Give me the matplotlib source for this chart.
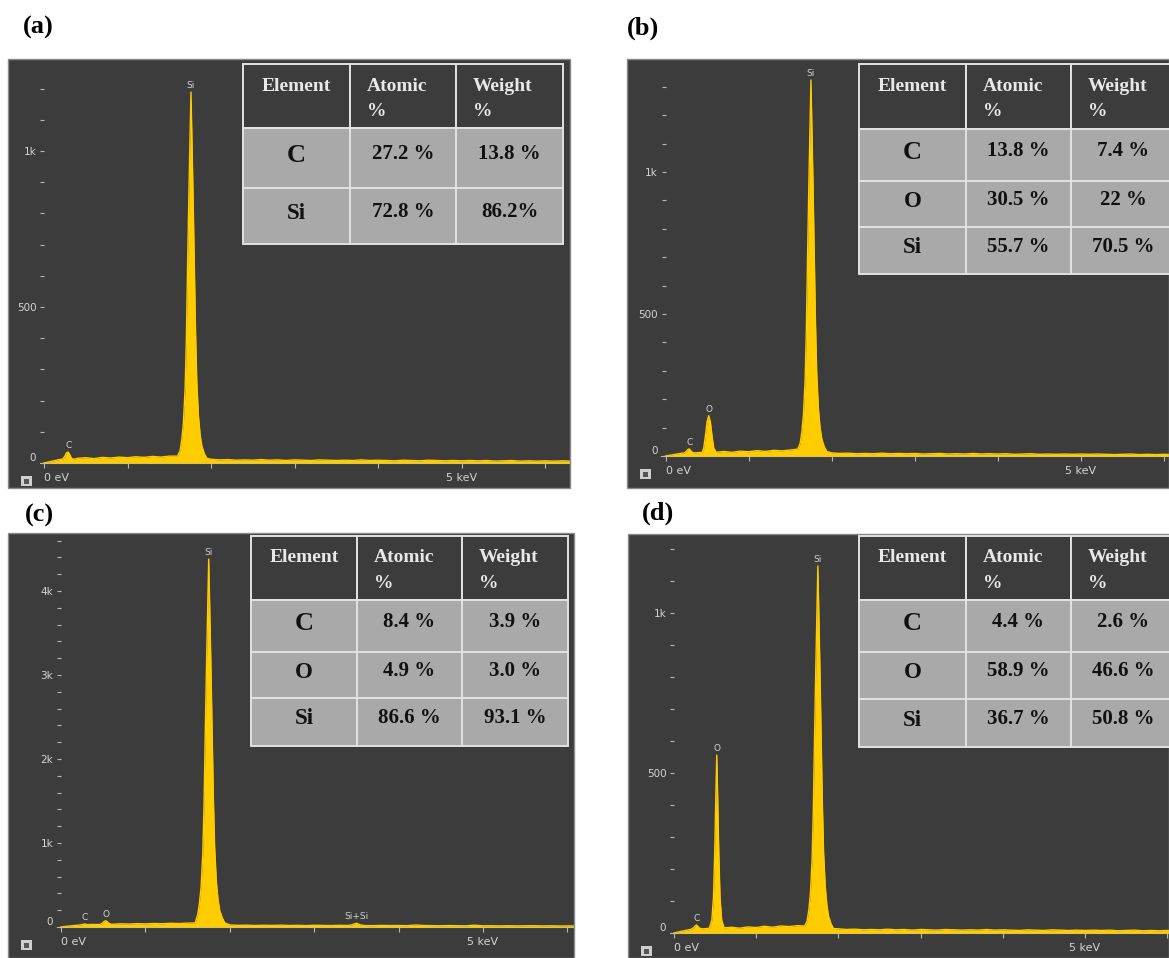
import numpy as np
import matplotlib.pyplot as plt
from matplotlib.patches import Rectangle

W, H = 1169, 958

# ---------------- data ----------------
# baseline channels every 0.1 keV (counts)
base_kev = np.round(np.arange(0, 6.35, 0.1), 2)

a_base = [0, 6, 12, 14, 15, 17, 14, 18, 16, 19, 17, 20, 18, 21, 19, 22, 20, 20, 20, 20,
          12, 10, 11, 9, 10, 9, 11, 9, 10, 8, 10, 9, 8, 10, 9, 8, 9, 8, 10, 8,
          9, 8, 7, 9, 8, 7, 9, 8, 7, 8, 7, 8, 7, 8, 6, 7, 8, 6, 7, 6, 7, 6, 7, 6]
b_base = [0, 5, 10, 12, 12, 13, 14, 16, 13, 17, 15, 19, 16, 20, 18, 21, 20, 20, 20, 20,
          11, 9, 10, 8, 9, 8, 10, 8, 9, 8, 9, 7, 8, 9, 7, 8, 7, 9, 7, 8,
          7, 8, 6, 7, 8, 6, 7, 6, 7, 6, 7, 6, 7, 6, 5, 6, 7, 5, 6, 5, 6, 5, 6, 5]
c_base = [0, 12, 22, 28, 30, 34, 32, 38, 35, 40, 37, 42, 39, 44, 41, 46, 45, 45, 45, 45,
          24, 20, 22, 18, 21, 19, 22, 18, 20, 17, 21, 19, 17, 20, 18, 30, 18, 16, 19, 17,
          18, 16, 24, 18, 16, 15, 17, 15, 14, 22, 14, 15, 13, 15, 13, 14, 15, 13, 14, 12,
          13, 12, 13, 12]
d_base = [0, 6, 11, 13, 14, 15, 16, 18, 15, 19, 17, 21, 18, 22, 20, 23, 22, 22, 22, 22,
          13, 11, 12, 10, 11, 10, 12, 10, 11, 9, 11, 10, 9, 11, 10, 9, 10, 9, 11, 9,
          10, 9, 8, 10, 9, 8, 10, 9, 8, 9, 8, 9, 8, 9, 7, 8, 9, 7, 8, 7, 8, 7, 8, 7]

# peaks: energy (keV) / counts
a_C_kev = [0.22, 0.25, 0.27, 0.29, 0.31, 0.33, 0.36]
a_C_cts = [12, 22, 33, 35, 26, 15, 12]
a_Si_kev = [1.60, 1.63, 1.65, 1.67, 1.69, 1.705, 1.72, 1.735, 1.75, 1.76, 1.77, 1.785,
            1.80, 1.815, 1.83, 1.85, 1.87, 1.89, 1.92, 1.95]
a_Si_cts = [22, 40, 75, 130, 240, 400, 640, 860, 1060, 1189, 1060, 860,
            640, 420, 260, 150, 90, 55, 30, 15]

b_C_kev = [0.22, 0.25, 0.27, 0.285, 0.30, 0.32, 0.35]
b_C_cts = [10, 16, 23, 25, 20, 13, 11]
b_O_kev = [0.44, 0.46, 0.48, 0.50, 0.52, 0.54, 0.56, 0.58, 0.61]
b_O_cts = [12, 28, 70, 120, 142, 120, 70, 28, 13]
b_Si_kev = [1.59, 1.62, 1.64, 1.66, 1.68, 1.695, 1.71, 1.725, 1.74, 1.75, 1.76, 1.775,
            1.79, 1.805, 1.82, 1.84, 1.86, 1.88, 1.91, 1.94]
b_Si_cts = [24, 44, 83, 145, 267, 445, 712, 957, 1180, 1324, 1180, 957,
            712, 467, 290, 167, 100, 61, 33, 16]

c_C_kev = [0.22, 0.25, 0.28, 0.31, 0.34]
c_C_cts = [24, 28, 36, 28, 30]
c_O_kev = [0.46, 0.49, 0.51, 0.53, 0.55, 0.57, 0.60]
c_O_cts = [30, 45, 65, 75, 62, 42, 32]
c_Si_kev = [1.59, 1.62, 1.64, 1.66, 1.68, 1.695, 1.71, 1.725, 1.74, 1.75, 1.76, 1.775,
            1.79, 1.805, 1.82, 1.84, 1.86, 1.88, 1.91, 1.94]
c_Si_cts = [48, 150, 280, 480, 880, 1470, 2360, 3170, 3900, 4381, 3900, 3170,
            2360, 1550, 960, 550, 330, 200, 110, 50]
c_SiSi_kev = [3.40, 3.45, 3.48, 3.50, 3.52, 3.55, 3.60]
c_SiSi_cts = [18, 26, 38, 44, 36, 24, 17]

d_C_kev = [0.21, 0.24, 0.26, 0.275, 0.29, 0.31, 0.34]
d_C_cts = [12, 17, 23, 25, 21, 15, 13]
d_O_kev = [0.43, 0.46, 0.48, 0.495, 0.51, 0.52, 0.53, 0.545, 0.56, 0.58, 0.61]
d_O_cts = [15, 40, 110, 250, 440, 556, 440, 250, 110, 40, 16]
d_Si_kev = [1.59, 1.62, 1.64, 1.66, 1.68, 1.695, 1.71, 1.725, 1.74, 1.75, 1.76, 1.775,
            1.79, 1.805, 1.82, 1.84, 1.86, 1.88, 1.91, 1.94]
d_Si_cts = [22, 38, 72, 125, 232, 386, 617, 830, 1022, 1147, 1022, 830,
            617, 405, 251, 145, 87, 53, 29, 14]

# tables
header = ["Element", "Atomic", "Weight"]
a_elem = ["C", "Si"]
a_atomic = ["27.2 %", "72.8 %"]
a_weight = ["13.8 %", "86.2%"]
b_elem = ["C", "O", "Si"]
b_atomic = ["13.8 %", "30.5 %", "55.7 %"]
b_weight = ["7.4 %", "22 %", "70.5 %"]
c_elem = ["C", "O", "Si"]
c_atomic = ["8.4 %", "4.9 %", "86.6 %"]
c_weight = ["3.9 %", "3.0 %", "93.1 %"]
d_elem = ["C", "O", "Si"]
d_atomic = ["4.4 %", "58.9 %", "36.7 %"]
d_weight = ["2.6 %", "46.6 %", "50.8 %"]

# ---------------- layout (pixels) ----------------
BG = '#3c3c3c'
YEL = '#ffcc00'
TICK = '#b8b8b8'
LAB = '#d4d4d4'

panels = [
    dict(tag='(a)', tagxy=(38, 27), rect=(8, 59, 570, 488), x0=44, pk=83.5, y0=463, pc=0.312,
         base=a_base, peaks=[('C', a_C_kev, a_C_cts), ('Si', a_Si_kev, a_Si_cts)],
         yt=[0, 500, 1000], ytl=['0', '500', '1k'], ymin=100,
         cols=[243, 350, 456, 563], rows=[64, 128, 188, 244],
         elem=a_elem, atomic=a_atomic, weight=a_weight),
    dict(tag='(b)', tagxy=(643, 28), rect=(627, 59, 1169, 488), x0=665.5, pk=83.1, y0=456, pc=0.284,
         base=b_base, peaks=[('C', b_C_kev, b_C_cts), ('O', b_O_kev, b_O_cts), ('Si', b_Si_kev, b_Si_cts)],
         yt=[0, 500, 1000], ytl=['0', '500', '1k'], ymin=100,
         cols=[859, 966, 1071, 1176], rows=[64, 129, 181, 227, 274],
         elem=b_elem, atomic=b_atomic, weight=b_weight),
    dict(tag='(c)', tagxy=(39, 515), rect=(8, 533, 574, 958), x0=61, pk=84.4, y0=927, pc=0.084,
         base=c_base, peaks=[('C', c_C_kev, c_C_cts), ('O', c_O_kev, c_O_cts), ('Si', c_Si_kev, c_Si_cts),
                             ('Si+Si', c_SiSi_kev, c_SiSi_cts)],
         yt=[0, 1000, 2000, 3000, 4000], ytl=['0', '1k', '2k', '3k', '4k'], ymin=200,
         cols=[251, 357, 462, 568], rows=[536, 600, 652, 698, 746],
         elem=c_elem, atomic=c_atomic, weight=c_weight),
    dict(tag='(d)', tagxy=(658, 513), rect=(628, 534, 1169, 958), x0=674, pk=82.2, y0=933, pc=0.32,
         base=d_base, peaks=[('C', d_C_kev, d_C_cts), ('O', d_O_kev, d_O_cts), ('Si', d_Si_kev, d_Si_cts)],
         yt=[0, 500, 1000], ytl=['0', '500', '1k'], ymin=100,
         cols=[859, 966, 1071, 1176], rows=[536, 600, 652, 699, 747],
         elem=d_elem, atomic=d_atomic, weight=d_weight),
]

fig = plt.figure(figsize=(W / 100, H / 100), dpi=100)
fig.patch.set_facecolor('white')

# overlay in pixel coordinates for tables, tags, icons
ov = fig.add_axes([0, 0, 1, 1], zorder=10)
ov.set_xlim(0, W)
ov.set_ylim(H, 0)
ov.axis('off')
ov.patch.set_alpha(0)

serif = 'Liberation Serif'

for p in panels:
    L, T, R, B = p['rect']
    ax = fig.add_axes([L / W, 1 - B / H, (R - L) / W, (B - T) / H])
    ax.set_facecolor(BG)
    xmin, xmax = (L - p['x0']) / p['pk'], (R - p['x0']) / p['pk']
    ylo, yhi = (p['y0'] - B) / p['pc'], (p['y0'] - T) / p['pc']
    ax.set_xlim(xmin, xmax)
    ax.set_ylim(ylo, yhi)

    # merge baseline channels with the peak points
    e = np.array(base_kev[:len(p['base'])], dtype=float)
    c = np.array(p['base'], dtype=float)
    keep = np.ones(len(e), bool)
    for name, pe, pcnt in p['peaks']:
        keep &= ~((e >= min(pe)) & (e <= max(pe)))
    e_all = np.concatenate([e[keep]] + [np.array(pe) for _, pe, _ in p['peaks']])
    c_all = np.concatenate([c[keep]] + [np.array(pc_) for _, _, pc_ in p['peaks']])
    order = np.argsort(e_all)
    e_all, c_all = e_all[order], c_all[order]
    ax.fill_between(e_all, c_all, 0, color=YEL, lw=0, zorder=3)
    ax.plot(e_all, c_all, color=YEL, lw=1.0, zorder=3)

    for name, pe, pcnt in p['peaks']:
        i = int(np.argmax(pcnt))
        ax.annotate(name, (pe[i], pcnt[i]), xytext=(0, 1.5), textcoords='offset points',
                    ha='center', va='bottom', fontsize=6.5, color=LAB, zorder=4)

    # axes styling
    for s in ['top', 'right']:
        ax.spines[s].set_visible(False)
    ax.spines['left'].set_position(('data', 0))
    ax.spines['left'].set_color('none')
    ax.spines['bottom'].set_position(('data', 0))
    ax.spines['bottom'].set_color(TICK)
    ax.spines['bottom'].set_linewidth(0.8)
    ax.spines['bottom'].set_bounds(-0.05, xmax)

    xt = list(range(0, int(xmax) + 1))
    ax.set_xticks(xt)
    xl = ax.set_xticklabels(['0 eV' if t == 0 else ('5 keV' if t == 5 else '') for t in xt])
    xl[0].set_ha('left')
    ax.set_yticks(p['yt'])
    yl = ax.set_yticklabels(p['ytl'])
    yl[0].set_va('bottom')
    ax.set_yticks(np.arange(p['ymin'], yhi, p['ymin']), minor=True)
    ax.tick_params(axis='x', which='both', direction='out', length=3.5, width=0.8,
                   color=TICK, labelcolor=LAB, labelsize=8, pad=4)
    ax.tick_params(axis='y', which='both', direction='out', length=3, width=0.8,
                   color=TICK, labelcolor=LAB, labelsize=7.5, pad=2.5)

    # panel border + camera icon + tag
    ov.add_patch(Rectangle((L, T), R - L, B - T, fill=False, ec='#8a8a8a', lw=1))
    iy = p['y0'] + 18
    ov.add_patch(Rectangle((L + 13, iy - 5), 11, 10, fc='#cfcfcf', ec='none'))
    ov.add_patch(Rectangle((L + 16, iy - 2), 5, 5, fc='#555555', ec='none'))
    ov.text(p['tagxy'][0], p['tagxy'][1], p['tag'], family=serif, weight='bold',
            fontsize=19, ha='center', va='center', color='black')

    # composition table
    cols, rows = p['cols'], p['rows']
    for r in range(len(rows) - 1):
        for k in range(3):
            fc = BG if r == 0 else '#a9a9a9'
            ov.add_patch(Rectangle((cols[k], rows[r]), cols[k + 1] - cols[k], rows[r + 1] - rows[r],
                                   fc=fc, ec='#e2e2e2', lw=1.4))
    top = rows[0]
    ov.text((cols[0] + cols[1]) / 2, top + 22, header[0], family=serif, weight='bold',
            fontsize=14, color='#e8e8e8', ha='center', va='center')
    for k in (1, 2):
        ov.text(cols[k] + 17, top + 22, header[k], family=serif, weight='bold',
                fontsize=14, color='#e8e8e8', ha='left', va='center')
        ov.text(cols[k] + 17, top + 47, '%', family=serif, weight='bold',
                fontsize=14, color='#e8e8e8', ha='left', va='center')
    for r, (el, at, wt) in enumerate(zip(p['elem'], p['atomic'], p['weight'])):
        yc = (rows[r + 1] + rows[r + 2]) / 2 - 3
        ov.text((cols[0] + cols[1]) / 2, yc, el, family=serif, weight='bold',
                fontsize=19 if el == 'C' else 16.5, color='#111111', ha='center', va='center')
        ov.text((cols[1] + cols[2]) / 2, yc - 1, at, family=serif, weight='bold',
                fontsize=15, color='#111111', ha='center', va='center')
        ov.text((cols[2] + cols[3]) / 2, yc - 1, wt, family=serif, weight='bold',
                fontsize=15, color='#111111', ha='center', va='center')

fig.savefig('out.png', dpi=100, facecolor='white')
